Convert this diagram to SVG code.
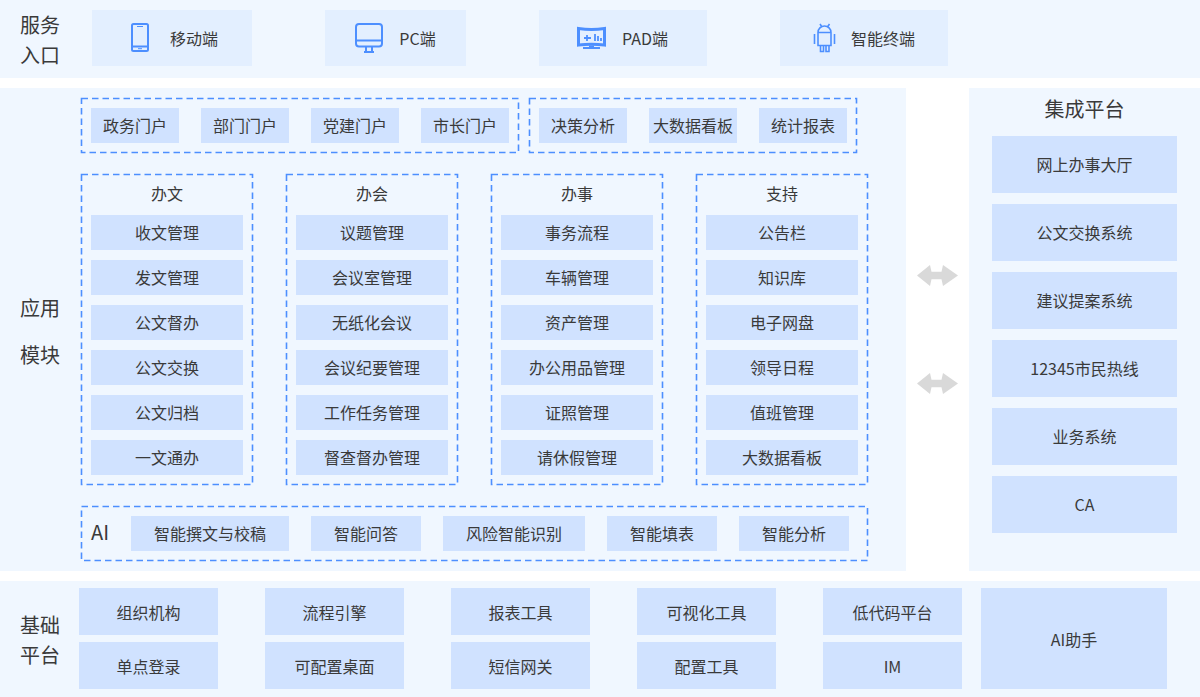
<svg xmlns="http://www.w3.org/2000/svg" width="1200" height="697" viewBox="0 0 1200 697">
<style>
text{font-family:"Noto Sans CJK SC","Noto Sans",sans-serif;fill:#3a3a3a;font-size:16px;text-anchor:middle;dominant-baseline:central}
.band{fill:#f0f7ff}
.t{fill:#d0e2ff}
.e{fill:#e3efff}
.d{fill:none;stroke:#4d8fff;stroke-width:1.6;stroke-dasharray:6.500 4}
.h{font-size:20px}
.i{fill:none;stroke:#4d8fff;stroke-width:2}
.a{fill:#d9d9d9}
</style>
<defs>
<polygon id="arr" class="a" points="-21,0 -8,-10.500 -6.500,-3.800 3.500,-3.800 5,-10.500 20,0 5,10.500 3.500,3.800 -6.500,3.800 -8,10.500"/>
</defs>
<g id="bands">
<rect class="band" x="0" y="0" width="1200" height="78"/>
<rect class="band" x="0" y="88" width="906" height="483"/>
<rect class="band" x="969" y="88" width="231" height="483"/>
<rect class="band" x="0" y="581" width="1200" height="116"/>
</g>
<g id="labels">
<text class="h" x="40" y="24">服务</text><text class="h" x="40" y="54">入口</text>
<text class="h" x="40" y="307">应用</text><text class="h" x="40" y="354">模块</text>
<text class="h" x="40" y="624">基础</text><text class="h" x="40" y="654">平台</text>
</g>
<g id="entry-mobile"><rect class="e" x="92" y="10" width="160" height="56"/>
<g class="i"><rect x="132" y="24" width="16" height="27" rx="1.500"/><path d="M132 46.500h16"/><path d="M137 26.500h6M138 48.700h4" style="stroke-width:1"/></g>
<text x="194" y="38">移动端</text></g>
<g id="entry-pc"><rect class="e" x="325" y="10" width="141" height="56"/>
<g class="i"><rect x="356" y="24" width="26" height="22.500" rx="3"/><path d="M356 40.500h26M366 46.500v5.500M372 46.500v5.500M364 52h10"/></g>
<text x="417.500" y="38">PC端</text></g>
<g id="entry-pad"><rect class="e" x="539" y="10" width="168" height="56"/>
<path d="M578.500 28.500Q591.500 30.500 604.500 28.500V45Q591.500 43.500 578.500 45Z" fill="none" stroke="#4d8fff" stroke-width="3"/>
<path d="M584 38h7M587 35v6M595 34v7M598 36v5M601 38v3" fill="none" stroke="#4d8fff" stroke-width="1.800"/>
<path d="M589 45.500h5v1.500h6v2h-17v-2h6z" fill="#4d8fff"/>
<text x="645" y="38">PAD端</text></g>
<g id="entry-terminal"><rect class="e" x="780" y="10" width="168" height="56"/>
<g class="i" style="stroke-width:1.600"><path d="M818 32.500a6.500 6.500 0 0 1 13 0v13h-13zM818 32.500h13M814.500 34v10M834.500 34v10M820.500 45.500v6h3v-6M826 45.500v6h3v-6M820 24l2 3M829.500 24l-2 3"/></g>
<text x="883" y="38">智能终端</text></g>

<g id="portal-group-1"><rect class="d" x="81.500" y="98.500" width="437" height="54"/>
<rect class="t" x="91" y="108" width="88" height="35"/><text x="135" y="125">政务门户</text>
<rect class="t" x="201" y="108" width="88" height="35"/><text x="245" y="125">部门门户</text>
<rect class="t" x="311" y="108" width="88" height="35"/><text x="355" y="125">党建门户</text>
<rect class="t" x="421" y="108" width="88" height="35"/><text x="465" y="125">市长门户</text></g>
<g id="portal-group-2"><rect class="d" x="529.500" y="98.500" width="327" height="54"/>
<rect class="t" x="539" y="108" width="88" height="35"/><text x="583" y="125">决策分析</text>
<rect class="t" x="649" y="108" width="88" height="35"/><text x="693" y="125">大数据看板</text>
<rect class="t" x="759" y="108" width="88" height="35"/><text x="803" y="125">统计报表</text></g>

<g id="col-banwen"><rect class="d" x="81.500" y="174.500" width="171" height="310"/><text x="167" y="193">办文</text>
<rect class="t" x="91" y="215" width="152" height="35"/><text x="167" y="232">收文管理</text>
<rect class="t" x="91" y="260" width="152" height="35"/><text x="167" y="277">发文管理</text>
<rect class="t" x="91" y="305" width="152" height="35"/><text x="167" y="322">公文督办</text>
<rect class="t" x="91" y="350" width="152" height="35"/><text x="167" y="367">公文交换</text>
<rect class="t" x="91" y="395" width="152" height="35"/><text x="167" y="412">公文归档</text>
<rect class="t" x="91" y="440" width="152" height="35"/><text x="167" y="457">一文通办</text></g>
<g id="col-banhui"><rect class="d" x="286.500" y="174.500" width="171" height="310"/><text x="372" y="193">办会</text>
<rect class="t" x="296" y="215" width="152" height="35"/><text x="372" y="232">议题管理</text>
<rect class="t" x="296" y="260" width="152" height="35"/><text x="372" y="277">会议室管理</text>
<rect class="t" x="296" y="305" width="152" height="35"/><text x="372" y="322">无纸化会议</text>
<rect class="t" x="296" y="350" width="152" height="35"/><text x="372" y="367">会议纪要管理</text>
<rect class="t" x="296" y="395" width="152" height="35"/><text x="372" y="412">工作任务管理</text>
<rect class="t" x="296" y="440" width="152" height="35"/><text x="372" y="457">督查督办管理</text></g>
<g id="col-banshi"><rect class="d" x="491.500" y="174.500" width="171" height="310"/><text x="577" y="193">办事</text>
<rect class="t" x="501" y="215" width="152" height="35"/><text x="577" y="232">事务流程</text>
<rect class="t" x="501" y="260" width="152" height="35"/><text x="577" y="277">车辆管理</text>
<rect class="t" x="501" y="305" width="152" height="35"/><text x="577" y="322">资产管理</text>
<rect class="t" x="501" y="350" width="152" height="35"/><text x="577" y="367">办公用品管理</text>
<rect class="t" x="501" y="395" width="152" height="35"/><text x="577" y="412">证照管理</text>
<rect class="t" x="501" y="440" width="152" height="35"/><text x="577" y="457">请休假管理</text></g>
<g id="col-zhichi"><rect class="d" x="696.500" y="174.500" width="171" height="310"/><text x="782" y="193">支持</text>
<rect class="t" x="706" y="215" width="152" height="35"/><text x="782" y="232">公告栏</text>
<rect class="t" x="706" y="260" width="152" height="35"/><text x="782" y="277">知识库</text>
<rect class="t" x="706" y="305" width="152" height="35"/><text x="782" y="322">电子网盘</text>
<rect class="t" x="706" y="350" width="152" height="35"/><text x="782" y="367">领导日程</text>
<rect class="t" x="706" y="395" width="152" height="35"/><text x="782" y="412">值班管理</text>
<rect class="t" x="706" y="440" width="152" height="35"/><text x="782" y="457">大数据看板</text></g>

<g id="ai-group"><rect class="d" x="81.500" y="506.500" width="786" height="54"/>
<text x="100" y="531" style="font-size:20px">AI</text>
<rect class="t" x="131" y="516" width="158" height="35"/><text x="210" y="533">智能撰文与校稿</text>
<rect class="t" x="311" y="516" width="110" height="35"/><text x="366" y="533">智能问答</text>
<rect class="t" x="443" y="516" width="142" height="35"/><text x="514" y="533">风险智能识别</text>
<rect class="t" x="607" y="516" width="110" height="35"/><text x="662" y="533">智能填表</text>
<rect class="t" x="739" y="516" width="110" height="35"/><text x="794" y="533">智能分析</text></g>

<g id="connectors"><use href="#arr" x="938" y="275.500"/><use href="#arr" x="938" y="383.500"/></g>

<g id="integration"><text x="1084.500" y="108" style="font-size:20px">集成平台</text>
<rect class="t" x="992" y="136" width="185" height="57"/><text x="1084.500" y="164">网上办事大厅</text>
<rect class="t" x="992" y="204" width="185" height="57"/><text x="1084.500" y="232">公文交换系统</text>
<rect class="t" x="992" y="272" width="185" height="57"/><text x="1084.500" y="300">建议提案系统</text>
<rect class="t" x="992" y="340" width="185" height="57"/><text x="1084.500" y="368">12345市民热线</text>
<rect class="t" x="992" y="408" width="185" height="57"/><text x="1084.500" y="436">业务系统</text>
<rect class="t" x="992" y="476" width="185" height="57"/><text x="1084.500" y="504">CA</text></g>

<g id="platform">
<rect class="t" x="79" y="588" width="139" height="47"/><text x="148.500" y="612">组织机构</text>
<rect class="t" x="79" y="642" width="139" height="47"/><text x="148.500" y="666">单点登录</text>
<rect class="t" x="265" y="588" width="139" height="47"/><text x="334.500" y="612">流程引擎</text>
<rect class="t" x="265" y="642" width="139" height="47"/><text x="334.500" y="666">可配置桌面</text>
<rect class="t" x="451" y="588" width="139" height="47"/><text x="520.500" y="612">报表工具</text>
<rect class="t" x="451" y="642" width="139" height="47"/><text x="520.500" y="666">短信网关</text>
<rect class="t" x="637" y="588" width="139" height="47"/><text x="706.500" y="612">可视化工具</text>
<rect class="t" x="637" y="642" width="139" height="47"/><text x="706.500" y="666">配置工具</text>
<rect class="t" x="823" y="588" width="139" height="47"/><text x="892.500" y="612">低代码平台</text>
<rect class="t" x="823" y="642" width="139" height="47"/><text x="892.500" y="666">IM</text>
<rect class="t" x="981" y="588" width="186" height="101"/><text x="1074" y="638.500">AI助手</text>
</g>
</svg>
